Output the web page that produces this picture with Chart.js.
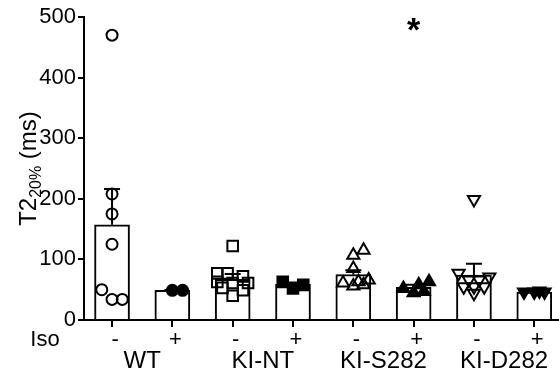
<!DOCTYPE html>
<html><head><meta charset="utf-8">
<script src="https://cdn.jsdelivr.net/npm/chart.js@4/dist/chart.umd.min.js"></script>
<style>html,body{margin:0;padding:0;background:#fff}#wrap{width:559px;height:376px}</style>
</head><body><div id="wrap"><canvas id="c" width="559" height="376"></canvas></div>
<script>
// ---- data ----
const categories = ['WT -','WT +','KI-NT -','KI-NT +','KI-S282 -','KI-S282 +','KI-D282 -','KI-D282 +'];
const isoSigns = ['-','+','-','+','-','+','-','+'];
const groupLabels = ['WT','KI-NT','KI-S282','KI-D282'];
const means = [157, 49, 67, 59, 75, 54, 74, 46];
const sems  = [59, 0.5, 9, 3, 7, 4, 19, 1];
const wtMinus    = [470, 208, 175, 125, 50, 34, 34];
const wtPlus     = [49, 49];
const kintMinus  = [122, 77, 77, 72, 63, 61, 61, 53, 49, 40];
const kintPlus   = [52, 58, 63];
const ks282Minus = [115, 107, 85, 66, 63, 61, 58, 56];
const ks282Plus  = [63, 58, 52, 47, 45];
const kd282Minus = [199, 77, 71, 66, 66, 55, 55, 55, 44];
const kd282Plus  = [48, 46, 46, 46];
const yTicks = [0, 100, 200, 300, 400, 500];
const sigMarks = [{cat: 5, value: 486, text: '*'}];

const FONT = "'Liberation Sans', Arial, sans-serif";

// simple beeswarm spread (computed, not typed)
const STEP = 0.17, PX_X = 60.2, PX_Y = 0.6067, MIN_D = 10;
function swarm(values, cat) {
  const placed = [];
  const order = values.map((v, i) => i).sort((a, b) => values[a] - values[b]);
  const out = new Array(values.length);
  const cands = [0, 1, -1, 0.5, -0.5, 1.5, -1.5];
  for (const i of order) {
    const v = values[i];
    let best = 0, bestD = -1;
    for (const c of cands) {
      const off = c * STEP;
      let dmin = Infinity;
      for (const p of placed) dmin = Math.min(dmin, Math.hypot((p.off - off) * PX_X, (p.v - v) * PX_Y));
      if (dmin >= MIN_D) { best = off; break; }
      if (dmin > bestD) { bestD = dmin; best = off; }
    }
    placed.push({off: best, v});
    out[i] = {x: cat + best, y: v};
  }
  return out;
}

const pointDefs = [
  {data: wtMinus,    style: 'circle',   fill: false, r: 5.5, rot: 0},
  {data: wtPlus,     style: 'circle',   fill: true,  r: 5.5, rot: 0},
  {data: kintMinus,  style: 'rect',     fill: false, r: 7.5, rot: 0},
  {data: kintPlus,   style: 'rect',     fill: true,  r: 7.5, rot: 0},
  {data: ks282Minus, style: 'triangle', fill: false, r: 7,   rot: 0},
  {data: ks282Plus,  style: 'triangle', fill: true,  r: 7,   rot: 0},
  {data: kd282Minus, style: 'triangle', fill: false, r: 7,   rot: 180},
  {data: kd282Plus,  style: 'triangle', fill: true,  r: 7,   rot: 180}
];

const datasets = [{
  type: 'bar',
  data: means.map((m, i) => ({x: i, y: m})),
  backgroundColor: '#fff', borderColor: '#000', borderWidth: 2,
  borderSkipped: 'bottom', barThickness: 35, order: 10
}];
pointDefs.forEach((d, i) => datasets.push({
  type: 'scatter', data: swarm(d.data, i),
  pointStyle: d.style, pointRadius: d.r, pointRotation: d.rot,
  pointBackgroundColor: d.fill ? '#000' : 'rgba(0,0,0,0)',
  pointBorderColor: '#000', pointBorderWidth: 2, order: 0, clip: false
}));

const annot = {
  id: 'annot',
  afterDatasetDraw(chart, args) {
    if (args.index !== 0) return;
    const ctx = chart.ctx, xs = chart.scales.x, ys = chart.scales.y;
    ctx.save();
    ctx.strokeStyle = '#000'; ctx.lineWidth = 2;
    means.forEach((m, i) => {
      const x = xs.getPixelForValue(i);
      const y0 = ys.getPixelForValue(m), y1 = ys.getPixelForValue(m + sems[i]);
      ctx.beginPath();
      ctx.moveTo(x, y0); ctx.lineTo(x, y1);
      ctx.moveTo(x - 8, y1); ctx.lineTo(x + 8, y1);
      ctx.stroke();
    });
    ctx.restore();
  },
  afterDraw(chart) {
    const ctx = chart.ctx, xs = chart.scales.x, ys = chart.scales.y, ca = chart.chartArea;
    ctx.save();
    ctx.fillStyle = '#000';
    // Iso row
    ctx.font = '22px ' + FONT;
    ctx.textAlign = 'center'; ctx.textBaseline = 'alphabetic';
    isoSigns.forEach((s, i) => ctx.fillText(s, xs.getPixelForValue(i) + 3, ca.bottom + 26));
    ctx.fillText('Iso', 45, ca.bottom + 26);
    // group labels
    ctx.font = '24px ' + FONT;
    groupLabels.forEach((g, k) => ctx.fillText(g, xs.getPixelForValue(2 * k + 0.5), ca.bottom + 48));
    // significance
    ctx.font = 'bold 34px ' + FONT;
    ctx.textBaseline = 'middle';
    sigMarks.forEach(s => ctx.fillText(s.text, xs.getPixelForValue(s.cat), ys.getPixelForValue(s.value) + 6));
    // y title with subscript
    ctx.translate(36, (ca.top + ca.bottom) / 2);
    ctx.rotate(-Math.PI / 2);
    ctx.textBaseline = 'alphabetic'; ctx.textAlign = 'left';
    const big = '24px ' + FONT, small = '16px ' + FONT;
    ctx.font = big; const w1 = ctx.measureText('T2').width, w3 = ctx.measureText(' (ms)').width;
    ctx.font = small; const w2 = ctx.measureText('20%').width;
    let x = -(w1 + w2 + w3) / 2;
    ctx.font = big; ctx.fillText('T2', x, 0); x += w1;
    ctx.font = small; ctx.fillText('20%', x, 5); x += w2;
    ctx.font = big; ctx.fillText(' (ms)', x, 0);
    ctx.restore();
  }
};

new Chart(document.getElementById('c'), {
  type: 'bar',
  data: {datasets},
  options: {
    responsive: false, animation: false,
    layout: {autoPadding: false, padding: {top: 17, right: 0, bottom: 0, left: 0}},
    plugins: {legend: {display: false}, tooltip: {enabled: false}},
    scales: {
      x: {
        type: 'linear', min: -0.465, max: 7.41, offset: false,
        afterBuildTicks: s => { s.ticks = categories.map((c, i) => ({value: i})); },
        ticks: {display: false},
        grid: {display: true, offset: false, drawOnChartArea: false, drawTicks: true, tickLength: 7, color: '#000', lineWidth: 2},
        border: {display: true, color: '#000', width: 2},
        afterFit: s => { s.height = 56; }
      },
      y: {
        min: 0, max: 500,
        afterBuildTicks: s => { s.ticks = yTicks.map(v => ({value: v})); },
        ticks: {color: '#000', font: {family: FONT, size: 22}, padding: 2},
        grid: {display: true, drawOnChartArea: false, drawTicks: true, tickLength: 6, color: '#000', lineWidth: 2},
        border: {display: true, color: '#000', width: 2},
        afterFit: s => { s.width = 84; }
      }
    }
  },
  plugins: [annot]
});
</script>
</body></html>
